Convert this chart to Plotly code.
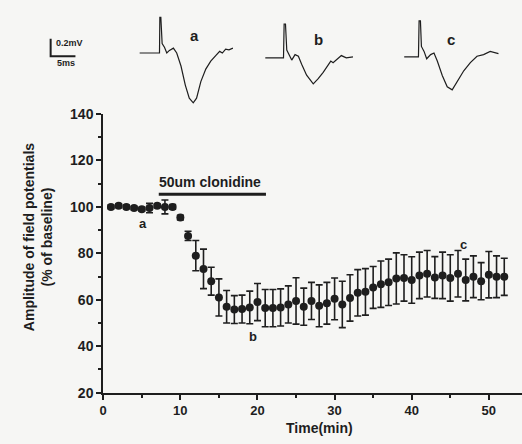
import plotly.graph_objects as go

# ---------------- data ----------------
time_min = list(range(1, 53))
amplitude = [100, 100.5, 100, 99.5, 99, 99.5, 100.5, 100, 100,
             95.4, 87.5, 79, 73.3, 68, 61, 57, 55.8, 56, 56.7, 59,
             56.4, 56.4, 56.7, 58, 59.5, 57, 59.5, 57.4, 58.5, 60.4,
             58, 60.8, 63, 63.4, 65.3, 66.7, 67.5, 69.2, 69.4, 68.5,
             70.5, 71.2, 69.6, 70.5, 69.4, 71.2, 68.5, 69.9, 68, 70.8,
             69.9, 69.9]
sem = [0.8, 0.8, 0.8, 0.8, 0.8, 2, 0.8, 3, 1,
       1, 2, 6.5, 8.5, 6, 8, 7, 6, 6, 7, 8,
       8, 8, 8, 8, 10, 8, 8, 9, 9, 9,
       10, 10, 10, 10, 9, 10, 10, 11, 10, 10,
       10, 10, 9, 10, 10, 10, 9, 9, 8, 10,
       9, 8]

x_ticks = [0, 10, 20, 30, 40, 50]
y_ticks = [20, 40, 60, 80, 100, 120, 140]

drug_label = "50um clonidine"
drug_start, drug_end, drug_level = 7.2, 21.1, 105.4
point_labels = ["a", "b", "c"]
point_label_t = [5.2, 19.4, 46.7]
point_label_v = [93, 44, 84]

# field potential traces (ms, mV relative to baseline)
trace_a_ms = [0, 4.0, 4.07, 4.27, 4.53, 5.0, 5.47, 6.0, 6.8, 7.47, 8.33, 9.2, 10, 10.8,
              11.47, 12.33, 13.33, 14.33, 15.33, 16.13, 16.67, 17.33, 18, 18.8]
trace_a_mv = [0, 0, 0.41, 0.41, 0.11, 0.067, 0, 0.03, 0.056, 0, -0.15, -0.37, -0.52, -0.574,
              -0.52, -0.33, -0.185, -0.093, -0.03, 0.019, 0, 0.044, 0.037, 0.056]
trace_b_ms = [0, 3.67, 3.8, 4.07, 4.33, 4.8, 5.33, 6.0, 6.67, 7.33, 8.33, 9.67, 10.67,
              11.67, 12.53, 13.2, 13.67, 14.33, 15.33, 16.33, 17.67]
trace_b_mv = [0, 0, 0.39, 0.39, 0.09, 0.037, -0.026, 0.037, 0.019, -0.074, -0.2, -0.30, -0.24,
              -0.167, -0.093, -0.037, -0.056, -0.019, 0.026, 0, 0.011]
trace_c_ms = [0, 2.87, 3.0, 3.27, 3.47, 4.0, 4.53, 5.33, 6.0, 6.67, 7.67, 8.67, 9.67,
              10.67, 12, 13.33, 14.67, 16, 17.33, 19]
trace_c_mv = [0, 0, 0.415, 0.415, 0.12, 0.063, -0.022, 0.026, 0.044, -0.048, -0.215, -0.344, -0.38,
              -0.29, -0.16, -0.067, 0.007, 0.026, 0.063, 0.037]
scale_ms = 5
scale_mv = 0.2

# ---------------- layout helpers ----------------
W, H = 522, 444
FONT = "Liberation Sans, Arial, Helvetica, sans-serif"
INK = "#1e1e1e"

def px(x):
    return x / W

def py(y):
    return 1 - y / H

fig = go.Figure()

# main data
fig.add_trace(go.Scatter(
    x=time_min, y=amplitude, mode="markers",
    marker=dict(color=INK, size=8, line=dict(width=0)),
    error_y=dict(type="data", array=sem, color=INK, thickness=1.6, width=3.5),
    xaxis="x", yaxis="y", showlegend=False,
))

# drug bar
fig.add_trace(go.Scatter(
    x=[drug_start, drug_end], y=[drug_level, drug_level], mode="lines",
    line=dict(color=INK, width=3), xaxis="x", yaxis="y", showlegend=False,
))

# inset axes: 5 px per ms, 90 px per mV
PX_MS, PX_MV = 5.0, 90.0
insets = [
    # (ms list, mv list, origin px x, origin px y, box px x0, x1, y0, y1)
    (trace_a_ms, trace_a_mv, 136.7, 46.7, 125, 245, 0, 110),
    (trace_b_ms, trace_b_mv, 263.3, 51.7, 255, 370, 0, 110),
    (trace_c_ms, trace_c_mv, 403.3, 50.7, 395, 510, 0, 110),
    ([0, 0, scale_ms], [scale_mv, 0, 0], 47.0, 50.0, 40, 100, 20, 60),
]
layout_axes = {}
for i, (xs, ys, ox, oy, bx0, bx1, by0, by1) in enumerate(insets):
    n = i + 2
    fig.add_trace(go.Scatter(
        x=xs, y=ys, mode="lines", line=dict(color=INK, width=1.2 if i < 3 else 2),
        xaxis=f"x{n}", yaxis=f"y{n}", showlegend=False,
    ))
    layout_axes[f"xaxis{n}"] = dict(
        domain=[px(bx0), px(bx1)],
        range=[(bx0 - ox) / PX_MS, (bx1 - ox) / PX_MS],
        visible=False, anchor=f"y{n}", fixedrange=True,
    )
    layout_axes[f"yaxis{n}"] = dict(
        domain=[py(by1), py(by0)],
        range=[-(by1 - oy) / PX_MV, (oy - by0) / PX_MV],
        visible=False, anchor=f"x{n}", fixedrange=True,
    )

def ann(x, y, text, size, xref="paper", yref="paper", xanchor="center", angle=0):
    return dict(x=x, y=y, xref=xref, yref=yref, text=text, showarrow=False,
                xanchor=xanchor, yanchor="middle", textangle=angle,
                font=dict(family=FONT, size=size, color=INK, weight="bold"))

annotations = []
for lab, t, v in zip(point_labels, point_label_t, point_label_v):
    annotations.append(ann(t, v, lab, 13, "x", "y"))
annotations.append(ann((drug_start + drug_end) / 2 - 0.3, 110.8, drug_label, 14, "x", "y"))
# trace labels
for lab, xx, yy in zip(point_labels, [192, 317, 450], [29, 33, 33]):
    annotations.append(ann(px(xx), py(yy), lab, 15))
# scale bar labels
annotations.append(ann(px(50), py(36), "0.2mV", 9, xanchor="left"))
annotations.append(ann(px(62), py(57), "5ms", 9))
# axis titles
annotations.append(ann(px(35), py(238), "Amplitude of field potentials<br>(% of baseline)", 14, angle=-90))
annotations.append(ann(px(318), py(436), "Time(min)", 14))

fig.update_layout(
    width=W, height=H,
    margin=dict(l=0, r=0, t=0, b=0),
    paper_bgcolor="#f6f6f4", plot_bgcolor="rgba(0,0,0,0)",
    font=dict(family=FONT, color=INK),
    xaxis=dict(
        domain=[px(100), 1], range=[0, 54.3], anchor="y",
        tickvals=x_ticks, ticktext=[str(v) for v in x_ticks],
        ticks="outside", ticklen=5, tickwidth=1.5, tickcolor=INK,
        minor=dict(dtick=5, tick0=0, ticks="outside", ticklen=3, tickwidth=1.5, tickcolor=INK),
        showline=True, linecolor=INK, linewidth=2, showgrid=False, zeroline=False,
        tickfont=dict(family=FONT, size=13, color=INK, weight="bold"),
        fixedrange=True,
    ),
    yaxis=dict(
        domain=[py(399), py(110)], range=[20, 140], anchor="x",
        tickvals=y_ticks, ticktext=[str(v) for v in y_ticks],
        ticks="outside", ticklen=5, tickwidth=1.5, tickcolor=INK,
        minor=dict(dtick=10, tick0=0, ticks="outside", ticklen=3, tickwidth=1.5, tickcolor=INK),
        showline=True, linecolor=INK, linewidth=2, showgrid=False, zeroline=False,
        tickfont=dict(family=FONT, size=14, color=INK, weight="bold"),
        fixedrange=True,
    ),
    annotations=annotations,
    **layout_axes,
)

fig.write_html("out.html")
